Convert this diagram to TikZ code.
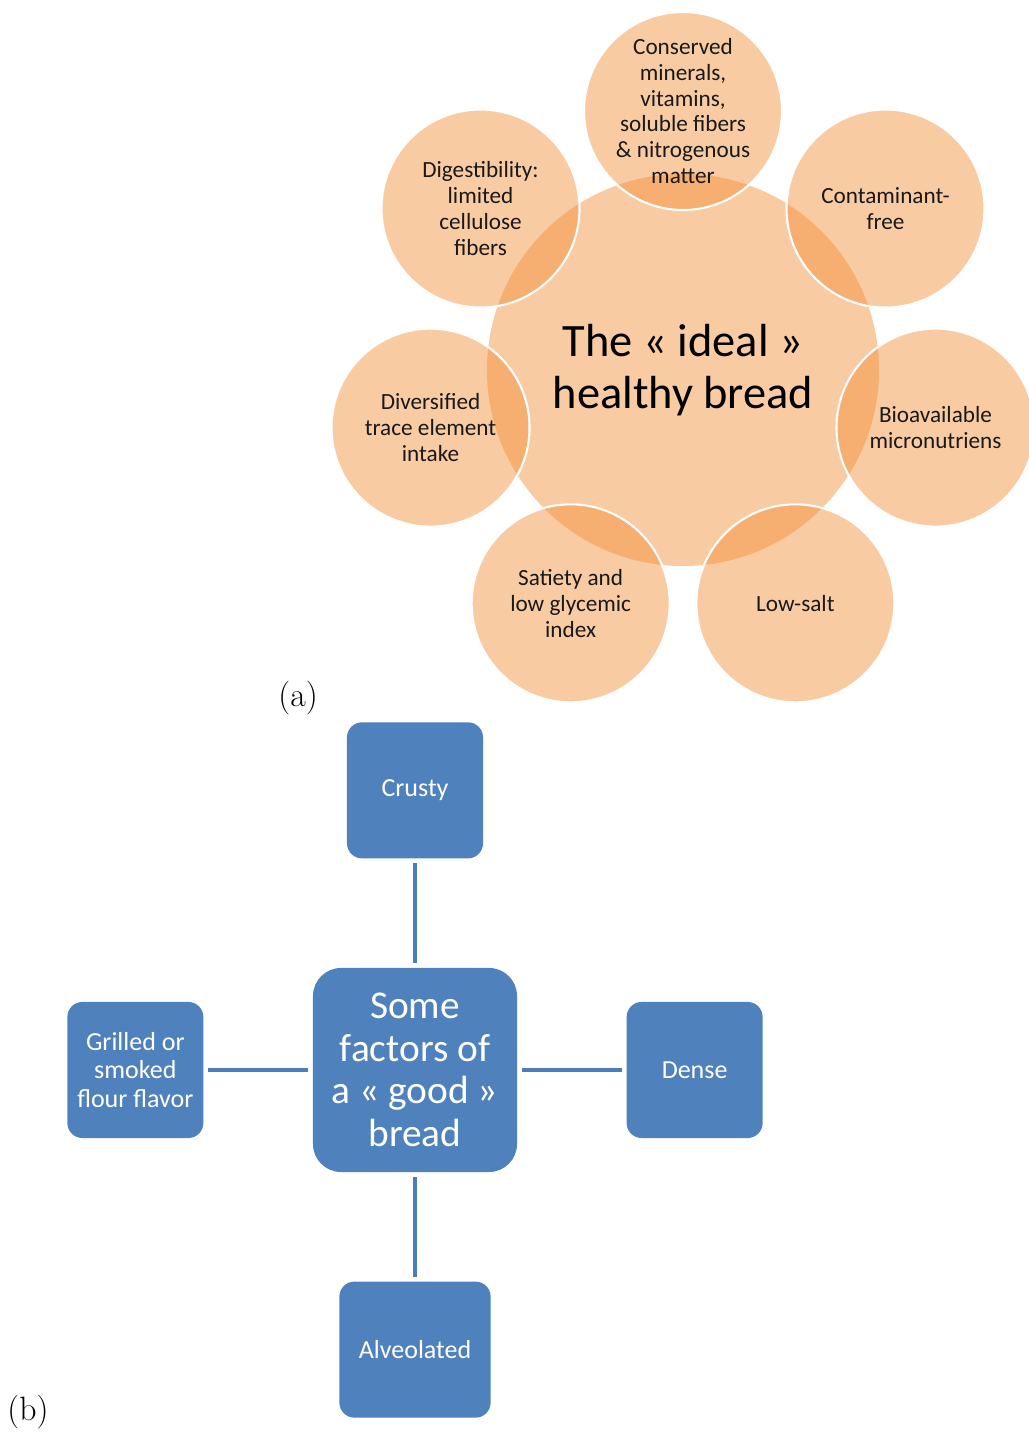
\documentclass[tikz,border=0pt]{standalone}
\usepackage{fontspec}
\newfontfamily\calibri{Carlito}
\usepackage{tikz}
\usetikzlibrary{positioning, calc}
\definecolor{breadorange}{RGB}{242,139,51}
\definecolor{factorblue}{RGB}{79,129,189}
\definecolor{linkblue}{RGB}{74,126,187}

\begin{document}
\begin{tikzpicture}[
x=0.025cm, y=0.025cm,
node distance=2.725cm,
idealnode/.style={circle, fill=breadorange, fill opacity=0.45, text opacity=1, minimum size=9.8cm, inner sep=0pt, align=center, font=\calibri\fontsize{33}{37}\selectfont},
petalnode/.style={circle, fill=breadorange, fill opacity=0.45, draw=white, line width=1.5pt, minimum size=4.95cm, inner sep=0pt},
petaltext/.style={text=black!90, text opacity=1, align=center, font=\calibri\fontsize{16.5}{18.4}\selectfont},
factornode/.style={rectangle, rounded corners=0.375cm, fill=factorblue, text=white, minimum size=3.4cm, inner sep=0.1cm, align=center, font=\calibri\fontsize{18.5}{20}\selectfont},
goodnode/.style={rectangle, rounded corners=0.7cm, fill=factorblue, text=white, minimum size=5.1cm, inner sep=0.1cm, align=center, font=\calibri\fontsize{28}{30.3}\selectfont},
link/.style={draw=linkblue, line width=2.5pt, shorten >=0.12cm, shorten <=0.12cm},
]
    \useasboundingbox (0,0) rectangle (1029,1432);

    % (a) healthy bread
    \node[idealnode]    (ideal)         at (683,1062)                 {The « ideal »\\healthy bread};
    \node[petalnode, label={[petaltext]center:{Conserved\\minerals,\\vitamins,\\soluble fibers\\\& nitrogenous\\matter}}]
                        (conserved)     at ($(ideal)+(90:259)$)       {};
    \node[petalnode, label={[petaltext]center:{Contaminant-\\free}}]
                        (contaminant)   at ($(ideal)+(38.57:259)$)    {};
    \node[petalnode, label={[petaltext]center:{Bioavailable\\micronutriens}}]
                        (bioavailable)  at ($(ideal)+(-12.86:259)$)   {};
    \node[petalnode, label={[petaltext]center:{Low-salt}}]
                        (lowsalt)       at ($(ideal)+(-64.29:259)$)   {};
    \node[petalnode, label={[petaltext]center:{Satiety and\\low glycemic\\index}}]
                        (satiety)       at ($(ideal)+(-115.71:259)$)  {};
    \node[petalnode, label={[petaltext]center:{Diversified\\trace element\\intake}}]
                        (diversified)   at ($(ideal)+(-167.14:259)$)  {};
    \node[petalnode, label={[petaltext]center:{Digestibility:\\limited\\cellulose\\fibers}}]
                        (digestibility) at ($(ideal)+(141.43:259)$)   {};
    \node[]             (labela)        at (298,734)                  {\fontsize{24}{28}\selectfont (a)};

    % (b) good bread
    \node[goodnode]     (goodbread)     at (415,362)                  {Some\\factors of\\a « good »\\bread};
    \node[factornode]   (crusty)        [above=of goodbread]          {Crusty};
    \node[factornode]   (dense)         [right=of goodbread]          {Dense};
    \node[factornode, minimum width=3.78cm]
                        (alveolated)    [below=of goodbread]          {Alveolated};
    \node[factornode]   (grilled)       [left=of goodbread]           {Grilled or\\smoked\\flour flavor};
    \node[]             (labelb)        at (28,20)                    {\fontsize{24}{28}\selectfont (b)};

    \draw[link] (goodbread.north) -- (crusty.south);
    \draw[link] (goodbread.east) -- (dense.west);
    \draw[link] (goodbread.south) -- (alveolated.north);
    \draw[link] (goodbread.west) -- (grilled.east);
\end{tikzpicture}
\end{document}
